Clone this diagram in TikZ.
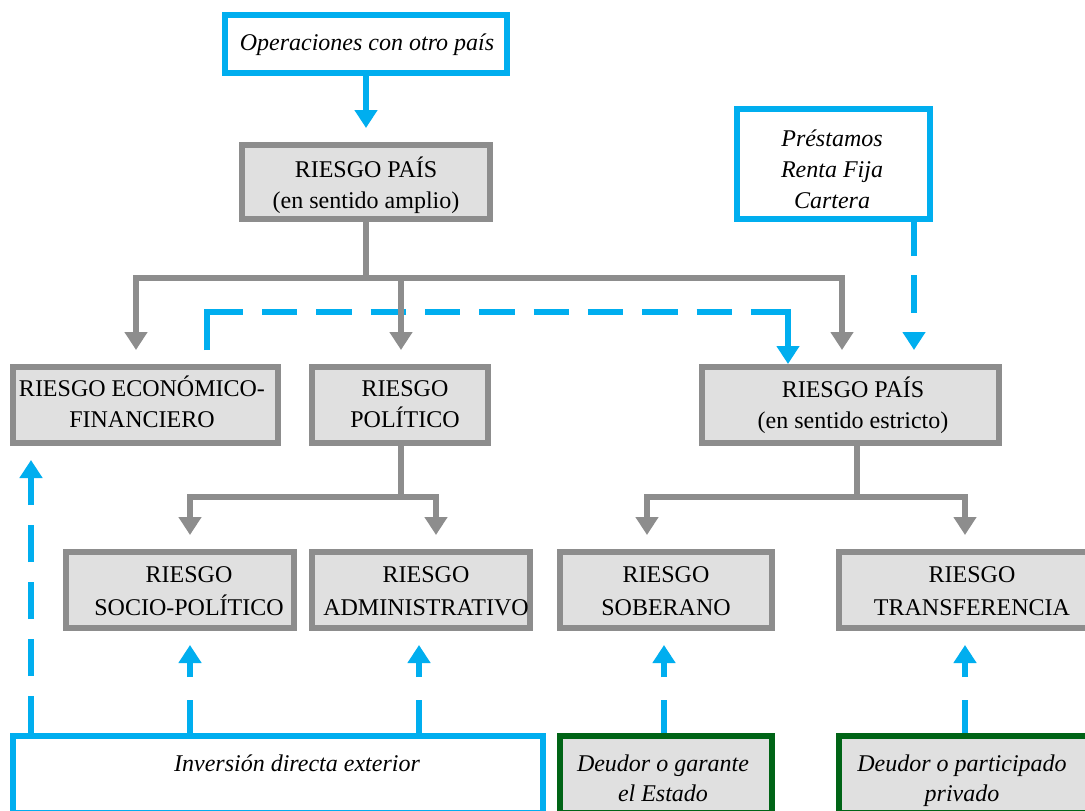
\documentclass[tikz,border=0pt]{standalone}
\usepackage{fontspec}
\setmainfont{Liberation Serif}
\usetikzlibrary{arrows.meta}
\definecolor{cblue}{RGB}{0,174,239}
\definecolor{cgray}{RGB}{141,141,141}
\definecolor{cfill}{RGB}{224,224,224}
\definecolor{cgreen}{RGB}{0,100,22}
\begin{document}
\begin{tikzpicture}[x=1pt,y=-1pt,
  box/.style={line width=6pt, inner sep=0pt, outer sep=3pt},
  gbox/.style={box, draw=cgray, fill=cfill},
  bbox/.style={box, draw=cblue, fill=white},
  grbox/.style={box, draw=cgreen, fill=cfill},
  txt/.style={align=center, inner sep=0pt, font=\fontsize{24}{31}\selectfont},
  txtlow/.style={align=center, inner sep=0pt, font=\fontsize{24}{33}\selectfont},
  tip/.style={-{Triangle[length=18pt,width=22pt]}},
  gline/.style={draw=cgray, line width=6pt},
  garrow/.style={gline, tip, shorten >=14pt},
  bline/.style={draw=cblue, line width=6pt},
  barrow/.style={bline, tip}]
\clip (0,0) rectangle (1085,811);
\fill[white] (0,0) rectangle (1085,811);

% boxes
\node[bbox, minimum width=282pt, minimum height=58pt] (op) at (366,44) {};
\node[gbox, minimum width=248pt, minimum height=74pt] (amplio) at (366,182) {};
\node[bbox, minimum width=193pt, minimum height=110pt] (prest) at (833.5,164) {};
\node[gbox, minimum width=265pt, minimum height=76pt] (econ) at (145.5,405) {};
\node[gbox, minimum width=176pt, minimum height=76pt] (pol) at (400,405) {};
\node[gbox, minimum width=297pt, minimum height=76pt] (estr) at (850.5,405) {};
\node[gbox, minimum width=228pt, minimum height=76pt] (socio) at (180,590) {};
\node[gbox, minimum width=218pt, minimum height=76pt] (admin) at (421,590) {};
\node[gbox, minimum width=212pt, minimum height=76pt] (sob) at (666,590) {};
\node[gbox, minimum width=266pt, minimum height=76pt] (trans) at (972,590) {};
\node[bbox, minimum width=530pt, minimum height=77pt] (inv) at (278,774.5) {};
\node[grbox, minimum width=212pt, minimum height=77pt] (deug) at (666,774.5) {};
\node[grbox, minimum width=266pt, minimum height=77pt] (deup) at (972,774.5) {};

% texts
\node[txt, font=\fontsize{24}{31}\selectfont\itshape] (op-t) at (367,43.8) {\strut Operaciones con otro país};
\node[txt] (amplio-t) at (366,186.8) {\strut RIESGO PAÍS\\\strut (en sentido amplio)};
\node[txt, font=\fontsize{24}{31}\selectfont\itshape] (prest-t) at (832,171.5) {\strut Préstamos\\\strut Renta Fija\\\strut Cartera};
\node[txt] (econ-t) at (142,405.8) {\strut RIESGO ECONÓMICO-\\\strut FINANCIERO};
\node[txt] (pol-t) at (405,405.8) {\strut RIESGO\\\strut POLÍTICO};
\node[txt] (estr-t) at (853,406.3) {\strut RIESGO PAÍS\\\strut (en sentido estricto)};
\node[txtlow] (socio-t) at (189,592.7) {\strut RIESGO\\\strut SOCIO-POLÍTICO};
\node[txtlow] (admin-t) at (426,592.7) {\strut RIESGO\\\strut ADMINISTRATIVO};
\node[txtlow] (sob-t) at (666,592.7) {\strut RIESGO\\\strut SOBERANO};
\node[txtlow] (trans-t) at (972,592.7) {\strut RIESGO\\\strut TRANSFERENCIA};
\node[txt, font=\fontsize{24}{31}\selectfont\itshape] (inv-t) at (297,764.8) {\strut Inversión directa exterior};
\node[txt, font=\fontsize{24}{30}\selectfont\itshape] (deug-t) at (663,780.5) {\strut Deudor o garante\\\strut el Estado};
\node[txt, font=\fontsize{24}{30}\selectfont\itshape] (deup-t) at (962,780.5) {\strut Deudor o participado\\\strut privado};

% bus points
\coordinate (busA) at (366,278);
\coordinate (busB) at (401,497);
\coordinate (busC) at (857,497);

% blue dashed economic -> estricto (under the gray lines)
\draw[barrow, shorten <=14pt,
  dash pattern=on 74pt off 19pt on 35.33pt off 19pt on 35.33pt off 19pt on 35.33pt off 19pt on 35.33pt off 19pt on 35.33pt off 19pt on 35.33pt off 19pt on 35.33pt off 19pt on 35.33pt off 19pt on 35.33pt off 19pt on 300pt]
  ([xshift=61.5pt]econ.north) -- ++(0,-52) -| ([xshift=-62.5pt]estr.north);

% gray tree
\draw[gline] (amplio.south) -- (busA);
\draw[garrow] (busA) -| ([xshift=-9.5pt]econ.north);
\draw[garrow] (busA) -| ([xshift=1pt]pol.north);
\draw[garrow] (busA) -| ([xshift=-8.5pt]estr.north);
\draw[gline] ([xshift=1pt]pol.south) -- (busB);
\draw[garrow] (busB) -| ([xshift=10pt]socio.north);
\draw[garrow] (busB) -| ([xshift=15pt]admin.north);
\draw[gline] ([xshift=6.5pt]estr.south) -- (busC);
\draw[garrow] (busC) -| ([xshift=-19pt]sob.north);
\draw[garrow] (busC) -| ([xshift=-7pt]trans.north);

% blue arrows
\draw[barrow, shorten >=14pt] (op.south) -- (amplio.north);
\draw[barrow, shorten >=14pt, dash pattern=on 34pt off 19pt on 38pt off 19pt on 200pt]
  ([xshift=80.5pt]prest.south) -- ([xshift=63.5pt]estr.north);
\draw[barrow, shorten >=14pt, dash pattern=on 37pt off 20pt]
  ([xshift=-247pt]inv.north) -- ([xshift=-114.5pt]econ.south);
\draw[barrow, shorten >=14pt, dash pattern=on 33pt off 23pt on 200pt]
  ([xshift=-88pt]inv.north) -- ([xshift=10pt]socio.south);
\draw[barrow, shorten >=14pt, dash pattern=on 33pt off 23pt on 200pt]
  ([xshift=141pt]inv.north) -- ([xshift=-2pt]admin.south);
\draw[barrow, shorten >=14pt, dash pattern=on 33pt off 23pt on 200pt]
  ([xshift=-2pt]deug.north) -- ([xshift=-2pt]sob.south);
\draw[barrow, shorten >=14pt, dash pattern=on 33pt off 23pt on 200pt]
  ([xshift=-7pt]deup.north) -- ([xshift=-7pt]trans.south);
\end{tikzpicture}
\end{document}
